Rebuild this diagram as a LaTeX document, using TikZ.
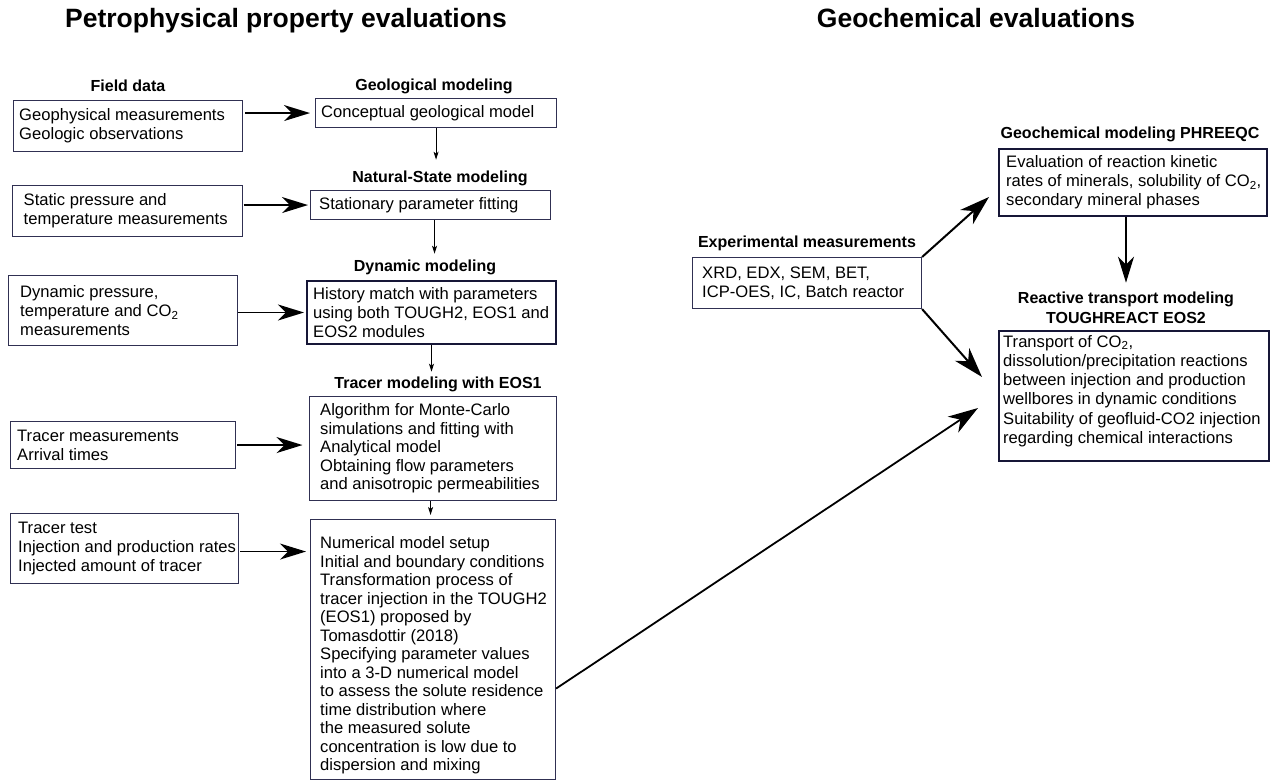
\documentclass[tikz,border=0pt]{standalone}
\usepackage{fontspec}
\setmainfont{Liberation Sans}
\usetikzlibrary{arrows.meta,calc}
\definecolor{boxcol}{RGB}{48,48,82}
\definecolor{darkbox}{RGB}{22,22,55}
\begin{document}
\begin{tikzpicture}[x=1pt,y=-1pt,
  box/.style={draw=boxcol, line width=1.1pt, anchor=north west, inner sep=0pt},
  thickbox/.style={box, draw=darkbox, line width=2pt},
  medbox/.style={box, draw=darkbox, line width=1.6pt},
  txt/.style={anchor=west, align=left, inner sep=0pt, font=\fontsize{16.6}{18.8}\selectfont},
  ttl/.style={anchor=base, inner sep=0pt, font=\fontsize{16}{19}\selectfont\bfseries},
  head/.style={anchor=base, inner sep=0pt, font=\fontsize{26.5}{30}\selectfont\bfseries},
  harrow/.style={-{Stealth[length=26pt,width=16pt,inset=8pt]}, line width=1.6pt},
  darrow/.style={-{Stealth[length=30pt,width=19pt,inset=9pt]}, line width=2pt},
  sarrow/.style={-{Stealth[length=8pt,width=5pt,inset=2pt]}, line width=0.9pt}
]
\useasboundingbox (0,0) rectangle (1275,783);

% headings
\node[head] (H1) at (286,28) {Petrophysical property evaluations};
\node[head] (H2) at (976,28) {Geochemical evaluations};

% titles
\node[ttl] (FDt) at (128,92) {Field data};
\node[ttl] (GMt) at (434,90.5) {Geological modeling};
\node[ttl] (NSt) at (440,182.5) {Natural-State modeling};
\node[ttl] (DMt) at (425,271.5) {Dynamic modeling};
\node[ttl] (TMt) at (438,388.5) {Tracer modeling with EOS1};
\node[ttl] (GCt) at (1130,138.5) {Geochemical modeling PHREEQC};
\node[ttl] (EMt) at (807,247.5) {Experimental measurements};
\node[ttl] (RTt) at (1126,303.5) {Reactive transport modeling};
\node[ttl] (RTt2) at (1126,323.5) {TOUGHREACT EOS2};

% left column boxes
\node[box, minimum width=229pt, minimum height=51pt] (F1) at (13,100) {};
\node[txt] (F1t) at ([xshift=6pt]F1.west) {Geophysical measurements\\Geologic observations};

\node[box, minimum width=230pt, minimum height=51pt] (F2) at (11.5,185) {};
\node[txt] (F2t) at ([xshift=12pt]F2.west) {Static pressure and\\temperature measurements};

\node[box, minimum width=229pt, minimum height=70pt] (F3) at (8,275) {};
\node[txt] (F3t) at ([xshift=12pt]F3.west) {Dynamic pressure,\\temperature and CO\textsubscript{2}\\measurements};

\node[box, minimum width=225pt, minimum height=47pt] (F4) at (10,421) {};
\node[txt] (F4t) at ([xshift=7pt]F4.west) {Tracer measurements\\Arrival times};

\node[box, minimum width=228pt, minimum height=70pt] (F5) at (10,513) {};
\node[txt] (F5t) at ([xshift=8pt]F5.west) {Tracer test\\Injection and production rates\\Injected amount of tracer};

% modeling column boxes
\node[box, minimum width=241pt, minimum height=29pt] (G1) at (315,98) {};
\node[txt] (G1t) at ([xshift=6pt]G1.west) {Conceptual geological model};

\node[box, minimum width=240pt, minimum height=29pt] (N1) at (310,190) {};
\node[txt] (N1t) at ([xshift=9pt]N1.west) {Stationary parameter fitting};

\node[thickbox, minimum width=249pt, minimum height=63pt] (D1) at (306,280) {};
\node[txt] (D1t) at ([xshift=7pt]D1.west) {History match with parameters\\using both TOUGH2, EOS1 and\\EOS2 modules};

\node[box, minimum width=247pt, minimum height=104pt] (T1) at (308.5,396) {};
\node[txt, font=\fontsize{16.6}{18.5}\selectfont] (T1t) at ([xshift=11.5pt]T1.west) {Algorithm for Monte-Carlo\\simulations and fitting with\\Analytical model\\Obtaining flow parameters\\and anisotropic permeabilities};

\node[box, minimum width=245pt, minimum height=260pt] (N2) at (310,519) {};
\node[txt, font=\fontsize{16.6}{18.5}\selectfont] (N2t) at ([xshift=10pt,yshift=-6pt]N2.west) {Numerical model setup\\Initial and boundary conditions\\Transformation process of\\tracer injection in the TOUGH2\\(EOS1) proposed by\\Tomasdottir (2018)\\Specifying parameter values\\into a 3-D numerical model\\to assess the solute residence\\time distribution where\\the measured solute\\concentration is low due to\\dispersion and mixing};

% geochemical boxes
\node[box, minimum width=229pt, minimum height=51pt] (X1) at (692,257) {};
\node[txt] (X1t) at ([xshift=10pt]X1.west) {XRD, EDX, SEM, BET,\\ICP-OES, IC, Batch reactor};

\node[medbox, minimum width=268pt, minimum height=67pt] (E1) at (998,148) {};
\node[txt, font=\fontsize{16.6}{18.6}\selectfont] (E1t) at ([xshift=8pt]E1.west) {Evaluation of reaction kinetic\\rates of minerals, solubility of CO\textsubscript{2},\\secondary mineral phases};

\node[thickbox, minimum width=270pt, minimum height=130pt] (R1) at (998,330) {};
\node[txt, font=\fontsize{16.6}{19.3}\selectfont] (R1t) at ([xshift=5pt,yshift=5pt]R1.west) {Transport of CO\textsubscript{2},\\dissolution/precipitation reactions\\between injection and production\\wellbores in dynamic conditions\\Suitability of geofluid-CO2 injection\\regarding chemical interactions};

% horizontal inputs
\draw[harrow, shorten <=2pt, shorten >=5pt] (F1.east |- G1.west) -- (G1.west);
\draw[harrow, shorten <=1pt, shorten >=2pt] (F2.east |- N1.west) -- (N1.west);
\draw[harrow, shorten >=2pt] (F3.east |- D1.west) -- (D1.west);
\draw[harrow, shorten <=1pt, shorten >=6pt] (F4.east) -- (F4.east -| T1.west);
\draw[harrow, shorten <=1pt, shorten >=4pt] ([yshift=-3pt]F5.east) -- ([yshift=-3pt]F5.east -| N2.west);

% vertical flow
\draw[sarrow, shorten >=11pt] (G1.south) -- (G1.south |- NSt.north);
\draw[sarrow, shorten >=6pt] ([xshift=4pt]N1.south) -- ([xshift=4pt]N1.south |- DMt.north);
\draw[sarrow, shorten >=5pt] (D1.south) -- (D1.south |- TMt.north);
\draw[sarrow, shorten >=4pt] ([xshift=-2pt]T1.south) -- ([xshift=-2pt]T1.south |- N2.north);
\draw[harrow, line width=1.5pt, shorten >=9pt] (RTt.north |- E1.south) -- (RTt.north);

% diagonal arrows
\coordinate (tipE) at (989,197);
\coordinate (tipR1) at (982,377);
\coordinate (tipR2) at (978,408);
\draw[darrow] (X1.north east) -- (tipE);
\draw[darrow] (X1.south east) -- (tipR1);
\draw[darrow, line width=1.8pt] ([yshift=-39pt]N2.east) -- (tipR2);
\end{tikzpicture}
\end{document}
